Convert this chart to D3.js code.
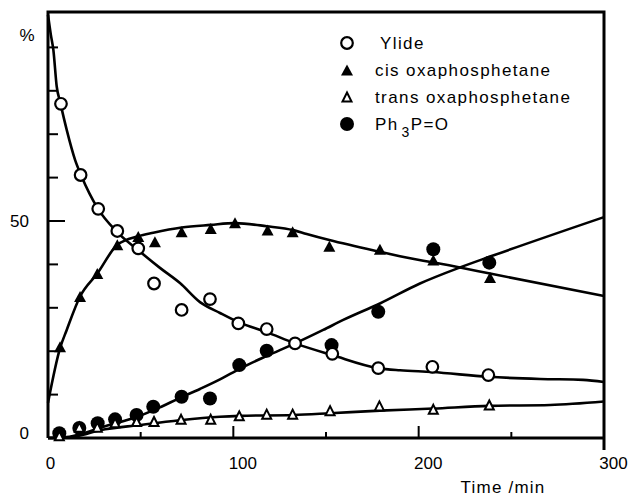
<!DOCTYPE html>
<html>
<head>
<meta charset="utf-8">
<script src="https://cdn.jsdelivr.net/npm/d3@7"></script>
<style>
  body { margin: 0; background: #fff; }
  text { font-family: "Liberation Sans", Arial, sans-serif; fill: #000; }
</style>
</head>
<body>
<div id="chart"></div>
<script>
// Measured points  [time /min, %]
const ylidePoints = [[7, 77], [17.6, 60.6], [27.1, 52.8], [37.4, 47.7], [48.7, 43.7], [57.2, 35.6], [72.1, 29.5], [87.4, 32], [102.7, 26.4], [118, 25.1], [133.3, 21.8], [153.4, 19.4], [178.2, 16.1], [207.4, 16.4], [237.6, 14.5]];
const cisPoints = [[6.5, 21], [17.3, 32.6], [26.6, 37.9], [37.4, 44.5], [48.7, 46.4], [57.7, 45.2], [72.1, 47.5], [87.8, 48.3], [100.9, 49.6], [118.5, 47.9], [132, 47.5], [151.8, 44.2], [179.1, 43.5], [207.9, 41], [238.5, 37]];
const transPoints = [[6.1, 0.5], [16.9, 2.5], [26.6, 2.5], [36.2, 3.5], [47.8, 3.8], [57.2, 3.8], [71.8, 4.3], [87.8, 4.3], [103.2, 5.1], [118, 5.5], [132, 5.5], [152.2, 6.3], [178.8, 7.4], [207.9, 6.6], [238.1, 7.6]];
const oxidePoints = [[6.1, 1.1], [16.9, 2.3], [26.8, 3.4], [36.2, 4.3], [47.8, 5.3], [56.8, 7.2], [72.1, 9.5], [87.4, 9.1], [103.2, 16.8], [118, 20.1], [153, 21.4], [178.2, 29.1], [207.9, 43.5], [238.1, 40.4]];

// Fitted curves
const ylideFit = [[0, 97.5], [1.5, 93], [2.9, 89.4], [4.7, 81], [6.5, 77.5], [10.1, 71], [14.6, 64.1], [17.8, 60.6], [27, 52.8], [37.2, 47.5], [48.6, 43.3], [60.4, 39.2], [71.2, 35.7], [82, 31.3], [92.8, 28.8], [102.7, 26.7], [118, 24.4], [133.3, 21.8], [153.4, 19.1], [178.2, 16.1], [189.9, 15.6], [207.2, 15.2], [237.4, 14.1], [265.5, 13.6], [288.7, 13.4], [300, 12.9]];
const cisFit = [[0, 8.1], [6.5, 20.7], [10.1, 24.9], [17.3, 32.6], [26.6, 37.9], [37.4, 44.5], [48.7, 46.5], [56.8, 47.3], [72.1, 48.5], [87.8, 49.1], [100.9, 49.5], [118, 48.8], [132.4, 47.9], [139.6, 47], [151.8, 45.6], [179.1, 42.9], [189.9, 41.9], [222.3, 39.3], [238.5, 37.9], [300, 32.7]];
const transFit = [[0, 0], [6.5, 0], [15.5, 0.4], [28.1, 1.8], [49.6, 3], [71.2, 4.1], [92.8, 4.9], [103.6, 5.1], [132.4, 5.3], [152.2, 5.7], [179.1, 6.3], [207.9, 6.8], [238.1, 7.4], [270.9, 7.6], [300, 8.4]];
const oxideFit = [[0, 0], [10, 0.2], [20, 1.2], [30, 2.6], [40, 3.8], [50, 5.2], [60, 7], [71, 9.2], [82, 11.3], [92.8, 13.5], [103.6, 16], [118, 18.9], [133.3, 21.8], [148.5, 24.9], [159.3, 27.2], [179.1, 31], [200.7, 35.6], [222.3, 39.3], [238.5, 41.8], [300, 50.9]];

// Axis ticks
const xLabels = [0, 100, 200, 300];
const xMajor = [100, 200];
const xMinor = [50, 150, 250];
const yLabels = [0, 50];
const yMinor = [10, 20, 30, 40, 60, 70, 80, 90];

// Legend
const legendLabels = ["Ylide", "cis oxaphosphetane", "trans oxaphosphetane", "Ph3P=O"];
const legendSymbols = ["openCircle", "filledTri", "openTri", "filledCircle"];

// Dimensions
const width = 630, height = 497;
const frame = { left: 48, right: 604, top: 12, bottom: 438 };

const x = d3.scaleLinear().domain([0, 300]).range([frame.left, frame.right]);
const y = d3.scaleLinear().domain([0, 50]).range([frame.bottom, 221]);

const svg = d3.select("#chart")
  .append("svg")
  .attr("width", width)
  .attr("height", height);

// symbols
const triPath = (w, h) => `M0,${-h / 2}L${w / 2},${h / 2}L${-w / 2},${h / 2}Z`;

const drawSymbol = (g, kind) => {
  if (kind === "openCircle") {
    g.append("circle").attr("r", 5.8).attr("fill", "#fff").attr("stroke", "#000").attr("stroke-width", 2.2);
  } else if (kind === "filledCircle") {
    g.append("circle").attr("r", 7).attr("fill", "#000");
  } else if (kind === "filledTri") {
    g.append("path").attr("d", triPath(12, 11)).attr("fill", "#000");
  } else {
    g.append("path").attr("d", triPath(9, 9)).attr("fill", "#fff").attr("stroke", "#000").attr("stroke-width", 2).attr("stroke-linejoin", "miter");
  }
};

// frame lines
svg.append("path")
  .attr("d", `M${frame.left},${frame.bottom}V${frame.top}H${frame.right}V${frame.bottom + 12}`)
  .attr("fill", "none")
  .attr("stroke", "#000")
  .attr("stroke-width", 3);

svg.append("line")
  .attr("x1", frame.left).attr("x2", frame.right)
  .attr("y1", frame.bottom).attr("y2", frame.bottom)
  .attr("stroke", "#000").attr("stroke-width", 3);

// y ticks, pointing inward
svg.selectAll(".yminor")
  .data(yMinor)
  .enter()
  .append("line")
  .attr("x1", frame.left).attr("x2", frame.left + 10)
  .attr("y1", d => y(d)).attr("y2", d => y(d))
  .attr("stroke", "#000").attr("stroke-width", 2);

svg.append("line")
  .attr("x1", frame.left).attr("x2", frame.left + 17)
  .attr("y1", y(50)).attr("y2", y(50))
  .attr("stroke", "#000").attr("stroke-width", 2);

const yAxis = svg.append("g")
  .attr("transform", `translate(${frame.left},0)`)
  .call(d3.axisLeft(y).tickValues(yLabels).tickSize(0).tickPadding(19));
yAxis.select(".domain").remove();
yAxis.selectAll("text")
  .style("font-size", "17px")
  .attr("dy", d => (d === 0 ? "0.03em" : "0.32em"));

// x ticks
svg.selectAll(".xmajor")
  .data(xMajor)
  .enter()
  .append("line")
  .attr("x1", d => x(d)).attr("x2", d => x(d))
  .attr("y1", frame.bottom).attr("y2", frame.bottom - 12)
  .attr("stroke", "#000").attr("stroke-width", 2);

svg.selectAll(".xminor")
  .data(xMinor)
  .enter()
  .append("line")
  .attr("x1", d => x(d)).attr("x2", d => x(d))
  .attr("y1", frame.bottom).attr("y2", frame.bottom - 6)
  .attr("stroke", "#000").attr("stroke-width", 2);

const xAxis = svg.append("g")
  .attr("transform", `translate(0,${frame.bottom})`)
  .call(d3.axisBottom(x).tickValues(xLabels).tickSize(0).tickPadding(19));
xAxis.select(".domain").remove();
xAxis.selectAll("text")
  .style("font-size", "17px")
  .attr("dx", d => (d === 0 ? 2 : 9));

// axis titles
svg.append("text")
  .attr("x", 27).attr("y", 41)
  .attr("text-anchor", "middle")
  .style("font-size", "17px")
  .text("%");

svg.append("text")
  .attr("x", 503).attr("y", 493)
  .attr("text-anchor", "middle")
  .style("font-size", "17px")
  .style("letter-spacing", "1.2px")
  .text("Time /min");

// fitted curves
const line = d3.line()
  .x(d => x(d[0]))
  .y(d => y(d[1]))
  .curve(d3.curveMonotoneX);

[ylideFit, cisFit, transFit, oxideFit].forEach(fit => {
  svg.append("path")
    .datum(fit)
    .attr("d", line)
    .attr("fill", "none")
    .attr("stroke", "#000")
    .attr("stroke-width", 2.6);
});

// markers (oxide first so the open triangles sit on top)
const addMarkers = (data, kind) => {
  svg.append("g")
    .selectAll("g")
    .data(data)
    .enter()
    .append("g")
    .attr("transform", d => `translate(${x(d[0])},${y(d[1])})`)
    .each(function () { drawSymbol(d3.select(this), kind); });
};

addMarkers(oxidePoints, "filledCircle");
addMarkers(cisPoints, "filledTri");
addMarkers(transPoints, "openTri");
addMarkers(ylidePoints, "openCircle");

// legend
const legendRows = [43, 70, 97, 124];
const legend = svg.append("g");

legendLabels.forEach((label, i) => {
  const row = legend.append("g").attr("transform", `translate(347,${legendRows[i]})`);
  drawSymbol(row.append("g"), legendSymbols[i]);
  const t = row.append("text")
    .attr("x", i === 0 ? 33 : 28)
    .attr("y", 6)
    .style("font-size", "17px")
    .style("letter-spacing", "1.4px");
  if (label === "Ph3P=O") {
    t.append("tspan").text("Ph");
    t.append("tspan").attr("dx", 3).attr("dy", 7).style("font-size", "14px").text("3");
    t.append("tspan").attr("dy", -7).text("P=O");
  } else {
    t.text(label);
  }
});
</script>
</body>
</html>
